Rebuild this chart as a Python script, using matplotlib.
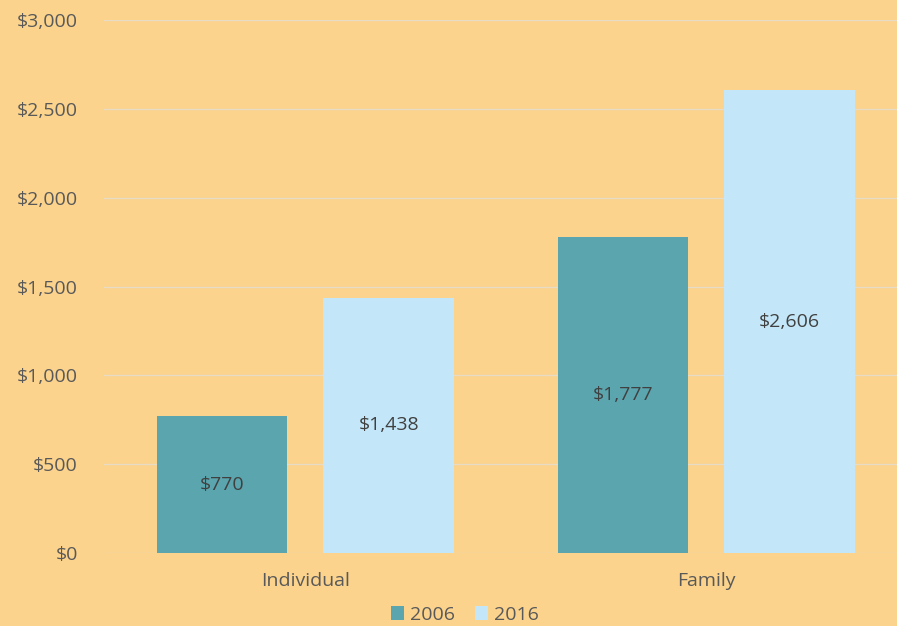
import numpy as np
import matplotlib.pyplot as plt
from matplotlib.ticker import FuncFormatter

categories = ['Individual', 'Family']
years = ['2006', '2016']
values_2006 = [770, 1777]
values_2016 = [1438, 2606]

bg = '#FBD38C'
colors = ['#5BA5AF', '#C3E7F8']
font = 'Open Sans'

fig = plt.figure(figsize=(8.97, 6.26), dpi=100, facecolor=bg)
ax = fig.add_axes([0.116, 0.1166, 0.884, 0.8514], facecolor=bg)

x = np.arange(len(categories))
width = 0.325
offset = 0.2075

for vals, dx, col, lab in [(values_2006, -offset, colors[0], years[0]),
                           (values_2016, offset, colors[1], years[1])]:
    bars = ax.bar(x + dx, vals, width, color=col, label=lab, zorder=3)
    for b, v in zip(bars, vals):
        ax.text(b.get_x() + b.get_width() / 2, v / 2, f'${v:,}',
                ha='center', va='center', fontsize=14, color='#404040',
                family=font, zorder=4)

ax.set_ylim(0, 3000)
ax.set_xlim(-0.5025, 1.476)
ax.set_yticks(np.arange(0, 3001, 500))
ax.yaxis.set_major_formatter(FuncFormatter(lambda v, p: f'${int(v):,}'))
ax.set_xticks(x)
ax.set_xticklabels(categories)
ax.grid(axis='y', color='#E8DCC4', linewidth=1, zorder=0)
for s in ax.spines.values():
    s.set_visible(False)
ax.tick_params(length=0, labelsize=14, labelcolor='#595959')
ax.tick_params(axis='x', pad=14)
ax.tick_params(axis='y', pad=19)
for t in ax.get_xticklabels() + ax.get_yticklabels():
    t.set_family(font)

leg = ax.legend(loc='upper center', bbox_to_anchor=(0.455, -0.066), ncol=2,
                frameon=False, handlelength=0.7, handleheight=0.7,
                handletextpad=0.3, columnspacing=1.0,
                prop={'family': font, 'size': 14})
for t in leg.get_texts():
    t.set_color('#595959')

fig.savefig('out.png', dpi=100, facecolor=bg)
